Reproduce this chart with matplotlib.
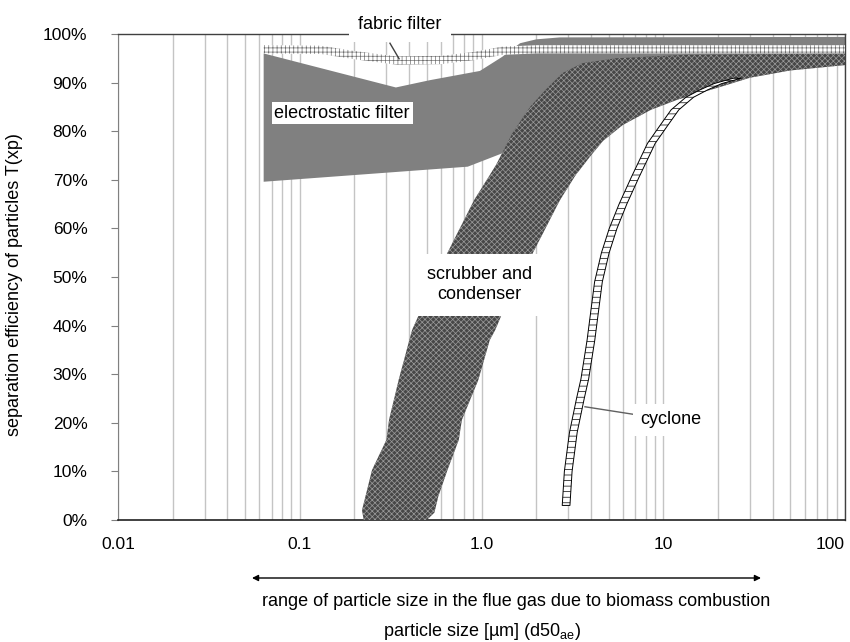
import numpy as np
import matplotlib
matplotlib.use('Agg')
import matplotlib.pyplot as plt
from matplotlib.ticker import LogLocator, NullFormatter

plt.rcParams['font.family'] = ['Liberation Sans', 'DejaVu Sans']
plt.rcParams['mathtext.fontset'] = 'custom'
plt.rcParams['mathtext.rm'] = 'Liberation Sans'
plt.rcParams['mathtext.it'] = 'Liberation Sans'
plt.rcParams['hatch.linewidth'] = 0.5

# ---------------- data (particle size in um, efficiency in %) ----------------
# electrostatic filter band
es_top_x = [0.0633, 0.338, 0.52, 0.98, 1.30, 1.63, 2.0, 2.7, 100]
es_top_y = [96.0, 89.0, 90.5, 92.4, 95.3, 98.1, 98.9, 99.3, 99.4]
es_bot_x = [0.0633, 0.84, 1.29, 2.0, 5.0, 20.0, 100]
es_bot_y = [69.6, 72.7, 75.4, 80.0, 86.0, 91.0, 93.8]

# scrubber and condenser band
sc_left_x = [0.225, 0.22, 0.25, 0.30, 0.31, 0.35, 0.415, 0.46, 0.65, 0.91, 1.2, 1.48, 1.85, 2.25]
sc_left_y = [0.0, 2.0, 10.3, 16.5, 20.6, 28.8, 39.1, 42.8, 55.0, 65.8, 73.0, 79.6, 85.0, 88.5]
sc_top_x = [2.8, 3.6, 5.5, 13.0, 100]
sc_top_y = [92.0, 94.0, 95.0, 95.7, 96.0]
sc_right_x = [0.50, 0.55, 0.58, 0.65, 0.75, 0.78, 0.96, 1.11, 1.19, 1.31, 1.86, 2.7, 3.3, 4.0, 4.66, 6.0, 8.55, 12.0, 21.0, 30.0, 50.0, 100]
sc_right_y = [0.0, 1.5, 5.0, 10.3, 16.5, 20.6, 28.8, 37.0, 39.1, 42.8, 54.0, 65.8, 71.0, 75.0, 78.0, 81.3, 84.4, 86.5, 89.2, 91.0, 92.5, 93.6]

# fabric filter band
fab_x = [0.0633, 0.13, 0.2, 0.34, 0.6, 0.9, 1.3, 2.0, 100]
fab_top = [97.7, 97.6, 96.5, 95.4, 95.5, 96.3, 97.4, 97.7, 97.7]
fab_bot = [96.0, 95.9, 94.8, 93.7, 93.8, 94.6, 95.7, 96.0, 96.0]

# cyclone curve
cyc_x = [2.92, 3.0, 3.2, 3.5, 3.7, 4.0, 4.4, 4.8, 5.3, 6.0, 7.0, 8.6, 10.0, 11.6, 14.0, 16.7, 20.0, 25.5]
cyc_y = [3.0, 10.0, 18.0, 25.0, 29.0, 37.0, 49.0, 55.0, 60.0, 65.0, 70.5, 77.5, 81.0, 84.4, 87.0, 88.5, 89.8, 90.9]

# axis ticks
xtick_vals = [0.01, 0.1, 1, 10, 100]
xtick_labels = ['0.01', '0.1', '1.0', '10', '100']
ytick_vals = list(range(0, 101, 10))
ytick_labels = [f'{v}%' for v in ytick_vals]

# labels and leader lines
fabric_label_xy = (0.356, 101.9)
fabric_leader = [(0.3136, 98.1), (0.352, 94.9)]
es_label_xy = (0.171, 83.7)
sc_label_xy = (0.97, 48.4)
cyc_label_xy = (11.0, 20.6)
cyc_leader = [(3.71, 23.3), (7.26, 21.6)]
range_arrow_x = [0.0546, 34.5]

FS = 13
TFS = 12.5

fig = plt.figure(figsize=(8.5, 6.42), dpi=100)
ax = fig.add_axes([118/850, 1-520/642, 727/850, 486/642])
ax.set_xscale('log')
ax.set_xlim(0.01, 100)
ax.set_ylim(0, 100)
ax.xaxis.set_minor_locator(LogLocator(base=10, subs=np.arange(2, 10)))
ax.xaxis.set_minor_formatter(NullFormatter())
ax.grid(which='both', axis='x', color='#c4c4c4', lw=1.0, zorder=0)
ax.set_axisbelow(True)

# electrostatic filter
ax.fill(np.r_[es_top_x, es_bot_x[::-1]], np.r_[es_top_y, es_bot_y[::-1]],
        color='#808080', lw=0, zorder=2)

# scrubber and condenser
sx = np.r_[sc_left_x, sc_top_x, sc_right_x[::-1]]
sy = np.r_[sc_left_y, sc_top_y, sc_right_y[::-1]]
ax.fill(sx, sy, facecolor='#474747', edgecolor='#9a9a9a', hatch='xxxxxx', lw=0, zorder=3)

# fabric filter
ax.fill_between(fab_x, fab_bot, fab_top, facecolor='white', edgecolor='#707070',
                hatch='++++', lw=0, zorder=4)

# cyclone
cx = np.array(cyc_x)
ax.fill_betweenx(cyc_y, cx/1.05, cx*1.05, facecolor='white', edgecolor='black',
                 hatch='---', lw=0.7, zorder=5)

# ticks
ax.set_xticks(xtick_vals)
ax.set_xticklabels(xtick_labels, fontsize=TFS)
ax.get_xticklabels()[-1].set_horizontalalignment('right')
ax.tick_params(axis='x', which='both', length=0, pad=12)
ax.set_yticks(ytick_vals)
ax.set_yticklabels(ytick_labels, fontsize=TFS)
ax.tick_params(axis='y', length=5, color='#808080', pad=17)

for s in ['top', 'right']:
    ax.spines[s].set_color('#404040')
    ax.spines[s].set_linewidth(1.0)
ax.spines['left'].set_color('#808080')
ax.spines['bottom'].set_color('#202020')
ax.spines['bottom'].set_linewidth(1.2)

# labels
ax.text(*fabric_label_xy, 'fabric filter', fontsize=FS, ha='center', va='center',
        bbox=dict(boxstyle='square,pad=0.5', fc='white', ec='none'), clip_on=False, zorder=8)
ax.plot(*zip(*fabric_leader), color='#404040', lw=1, zorder=7)
ax.text(*es_label_xy, 'electrostatic filter', fontsize=FS, ha='center', va='center',
        bbox=dict(boxstyle='square,pad=0.15', fc='white', ec='none'), zorder=8)
ax.text(*sc_label_xy, 'scrubber and\ncondenser', fontsize=FS, ha='center', va='center',
        linespacing=1.25, bbox=dict(boxstyle='square,pad=0.7', fc='white', ec='none'), zorder=8)
ax.text(*cyc_label_xy, 'cyclone', fontsize=FS, ha='center', va='center',
        bbox=dict(boxstyle='square,pad=0.4', fc='white', ec='none'), zorder=8)
ax.plot(*zip(*cyc_leader), color='#606060', lw=1, zorder=7)

# range arrow
ay = (520-578)/486
ax.annotate('', xy=(range_arrow_x[1], ay), xytext=(range_arrow_x[0], ay),
            xycoords=('data', 'axes fraction'), textcoords=('data', 'axes fraction'),
            arrowprops=dict(arrowstyle='<|-|>', color='black', lw=1, mutation_scale=9,
                            shrinkA=0, shrinkB=0), annotation_clip=False)
fig.text(516/850, 1-602/642, 'range of particle size in the flue gas due to biomass combustion',
         fontsize=FS, ha='center', va='center')
fig.text(482/850, 1-632/642, r'particle size [µm] (d50$_{\mathrm{ae}}$)',
         fontsize=FS, ha='center', va='center')
fig.text(15/850, 1-285/642, 'separation efficiency of particles T(xp)', fontsize=FS,
         rotation=90, ha='center', va='center')

fig.savefig('out.png', dpi=100)
